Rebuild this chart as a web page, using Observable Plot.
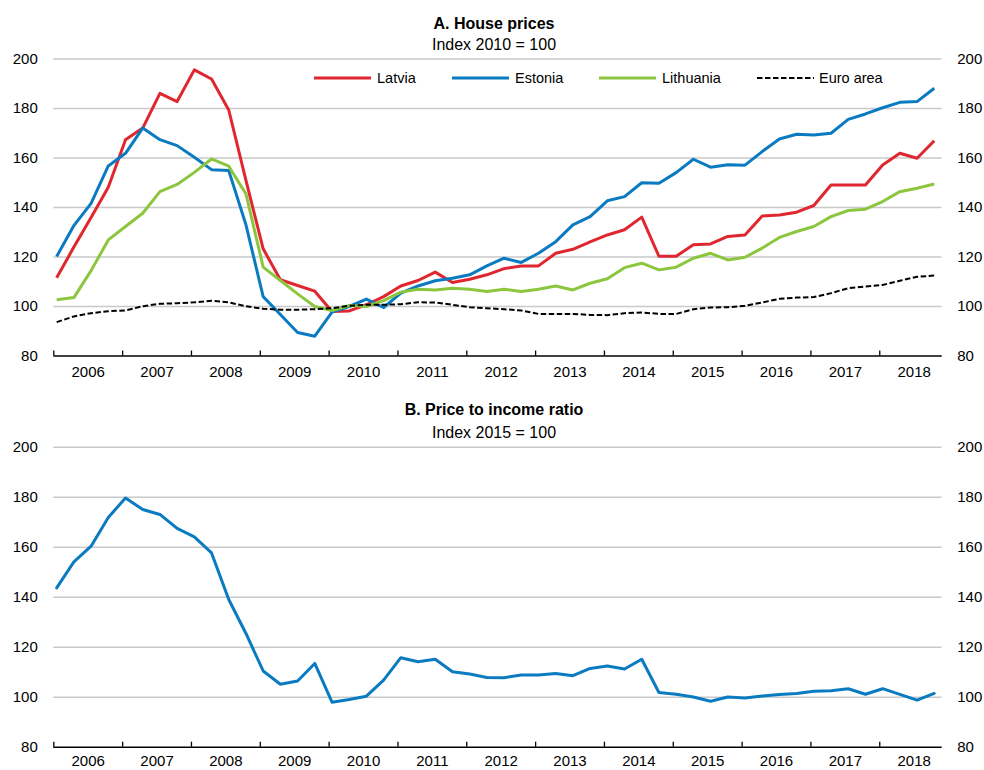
<!DOCTYPE html>
<html>
<head>
<meta charset="utf-8">
<script src="https://cdn.jsdelivr.net/npm/d3@7"></script>
<script src="https://cdn.jsdelivr.net/npm/@observablehq/plot@0.6"></script>
<style>
  body { margin: 0; background: #fff; }
  #chart { position: relative; width: 984px; height: 770px; overflow: hidden;
    font-family: "Liberation Sans", Arial, sans-serif; color: #000; }
  .t { position: absolute; left: 0; width: 988px; text-align: center; font-size: 16px; line-height: 22px; white-space: nowrap; }
  .t.b { font-weight: bold; }
  .panel { position: absolute; left: 0; }
  .leg { position: absolute; font-size: 14.5px; line-height: 20px; white-space: nowrap; }
  .sw { position: absolute; }
</style>
</head>
<body>
<div id="chart"></div>
<script>
// ---------- data (quarterly, 2006Q1 - 2018Q4) ----------
const years = [2006, 2007, 2008, 2009, 2010, 2011, 2012, 2013, 2014, 2015, 2016, 2017, 2018];
const quarters = [1, 2, 3, 4];
const yTicks = [80, 100, 120, 140, 160, 180, 200];

const latvia = [111.6, 124, 136, 148.2, 167.4, 172.1, 186.1, 182.8, 195.6, 191.9, 179.4, 151, 123.3, 110.8, 108.5, 106.2,
  98, 98.2, 100.7, 104, 108.3, 110.5, 113.9, 109.7, 111, 112.8, 115.3, 116.4, 116.4, 121.5, 123.1, 126.1, 128.9, 131, 136.1,
  120.3, 120.3, 124.9, 125.3, 128.3, 128.9, 136.6, 137, 138.1, 140.8, 149.1, 149.1, 149.1, 157.2, 161.9, 159.9, 167];
const estonia = [120.2, 132.7, 141.7, 156.8, 161.9, 172.1, 167.4, 165, 160.3, 155.3, 154.9, 133, 104, 96.8, 89.5, 88,
  97.7, 100, 103, 99.6, 105.4, 108.3, 110.4, 111.4, 112.8, 116.4, 119.5, 117.8, 121.5, 126.2, 133, 136.3, 142.7, 144.4, 150,
  149.8, 154.1, 159.5, 156.3, 157.3, 157.1, 162.6, 167.7, 169.6, 169.3, 170, 175.6, 177.8, 180.3, 182.5, 182.8, 188.2];
const lithuania = [102.7, 103.6, 114.5, 126.9, 132.3, 137.7, 146.4, 149.3, 154.2, 159.6, 156.7, 145.5, 115.9, 110.5, 105.1, 100,
  98.4, 100.4, 100, 102.4, 105.8, 107, 106.7, 107.4, 107, 106.1, 107, 106.1, 107, 108.3, 106.7, 109.4, 111.2, 115.7, 117.5,
  114.8, 115.9, 119.5, 121.5, 118.8, 119.9, 123.6, 127.9, 130.3, 132.3, 136.3, 138.8, 139.3, 142.4, 146.4, 147.8, 149.5];
const euroArea = [93.7, 96, 97.3, 98.1, 98.4, 100.1, 101.1, 101.3, 101.7, 102.3, 101.7, 100.1, 99.1, 98.7, 98.7, 98.9,
  99.3, 100.3, 100.7, 100.7, 100.9, 101.7, 101.6, 100.7, 99.7, 99.3, 98.9, 98.4, 97, 97, 97, 96.6, 96.5, 97.3, 97.6,
  97, 97, 98.9, 99.6, 99.7, 100.3, 101.6, 103.1, 103.6, 103.8, 105.4, 107.4, 108.1, 108.7, 110.4, 112, 112.5];
const priceToIncome = [143.7, 154.1, 160.4, 171.9, 179.7, 175.1, 173.1, 167.5, 164.1, 157.7, 139.1, 125.5, 110.5, 105.2, 106.5, 113.5,
  98, 99.1, 100.4, 106.8, 115.8, 114.2, 115.2, 110.2, 109.3, 107.9, 107.8, 108.9, 108.9, 109.5, 108.6, 111.5, 112.5, 111.3, 115.2,
  101.9, 101.2, 100.1, 98.4, 100.1, 99.7, 100.5, 101.1, 101.5, 102.4, 102.6, 103.4, 101.2, 103.4, 101.1, 98.8, 101.5];

const seriesNames = ["Latvia", "Estonia", "Lithuania", "Euro area"];
const seriesColors = ["#e0262e", "#0b7bc1", "#8cc63f", "#000000"];

// ---------- helpers ----------
// each quarterly observation sits in the middle of the quarter's first month
const periods = years.flatMap(y => quarters.map(q => y + ((q - 1) * 3 + 0.5) / 12));
const toRows = (vals, name) => vals.map((v, i) => ({x: periods[i], y: v, name}));

const FONT = '"Liberation Sans", Arial, sans-serif';

function panel({height, marginTop, marginBottom, lines, labelPad}) {
  return Plot.plot({
    width: 984, height, marginLeft: 53.3, marginRight: 42.3, marginTop, marginBottom,
    style: {fontFamily: FONT, fontSize: "15px", color: "#000", background: "transparent", overflow: "visible"},
    x: {type: "linear", domain: [2006, 2018.907]},
    y: {domain: [80, 200]},
    marks: [
      Plot.gridY(yTicks.filter(t => t > 80), {stroke: "#c9c9c9", strokeOpacity: 1, strokeWidth: 1.4}),
      Plot.axisY(yTicks, {anchor: "left", tickSize: 0, tickPadding: 16, label: null, tickFormat: d => String(d)}),
      Plot.axisY(yTicks, {anchor: "right", tickSize: 0, tickPadding: 15, label: null, tickFormat: d => String(d)}),
      Plot.ruleX(years, {x: d => d, y1: 80, y2: 82, stroke: "#000", strokeWidth: 1.3}),
      Plot.ruleY([80], {stroke: "#000", strokeWidth: 1.4}),
      Plot.axisX(years.map(y => y + 0.5), {anchor: "bottom", tickSize: 0, tickPadding: labelPad, label: null,
        tickFormat: d => String(Math.floor(d))}),
      ...lines
    ]
  });
}

const chart = document.getElementById("chart");

function addText(cls, text, top) {
  const d = document.createElement("div");
  d.className = cls;
  d.style.top = top + "px";
  d.textContent = text;
  chart.appendChild(d);
}

// ---------- Panel A ----------
addText("t b", "A. House prices", 13);
addText("t", "Index 2010 = 100", 34);

const seriesA = [latvia, estonia, lithuania, euroArea];
const linesA = seriesA.map((vals, i) => Plot.line(toRows(vals, seriesNames[i]), {
  x: "x", y: "y", stroke: seriesColors[i],
  strokeWidth: i === 3 ? 2 : 3,
  strokeDasharray: i === 3 ? "5.5,2.5" : null,
  strokeLinejoin: "round", strokeLinecap: "butt"
}));
const pA = panel({height: 335, marginTop: 8.5, marginBottom: 29.5, lines: linesA, labelPad: 10});
pA.classList.add("panel");
pA.style.top = "50px";
chart.appendChild(pA);

// legend (inside panel A)
const legendLayout = [
  {sw: 314, text: 377},
  {sw: 452, text: 515},
  {sw: 599, text: 662},
  {sw: 757, text: 819}
];
seriesNames.forEach((name, i) => {
  const L = legendLayout[i];
  const ns = "http://www.w3.org/2000/svg";
  const s = document.createElementNS(ns, "svg");
  s.setAttribute("width", 58); s.setAttribute("height", 6);
  s.setAttribute("class", "sw");
  s.style.left = L.sw + "px"; s.style.top = "75px";
  const ln = document.createElementNS(ns, "line");
  ln.setAttribute("x1", 0); ln.setAttribute("x2", 57);
  ln.setAttribute("y1", 3); ln.setAttribute("y2", 3);
  ln.setAttribute("stroke", seriesColors[i]);
  ln.setAttribute("stroke-width", i === 3 ? 2 : 3.2);
  if (i === 3) ln.setAttribute("stroke-dasharray", "5.5,2.5");
  s.appendChild(ln);
  chart.appendChild(s);
  const t = document.createElement("div");
  t.className = "leg";
  t.style.left = L.text + "px";
  t.style.top = "68px";
  t.textContent = name;
  chart.appendChild(t);
});

// ---------- Panel B ----------
addText("t b", "B. Price to income ratio", 399);
addText("t", "Index 2015 = 100", 422);

const linesB = [Plot.line(toRows(priceToIncome, "Price to income"), {
  x: "x", y: "y", stroke: seriesColors[1], strokeWidth: 3, strokeLinejoin: "round"
})];
const pB = panel({height: 335, marginTop: 11.7, marginBottom: 23.3, lines: linesB, labelPad: 8.5});
pB.classList.add("panel");
pB.style.top = "435px";
chart.appendChild(pB);
</script>
</body>
</html>
